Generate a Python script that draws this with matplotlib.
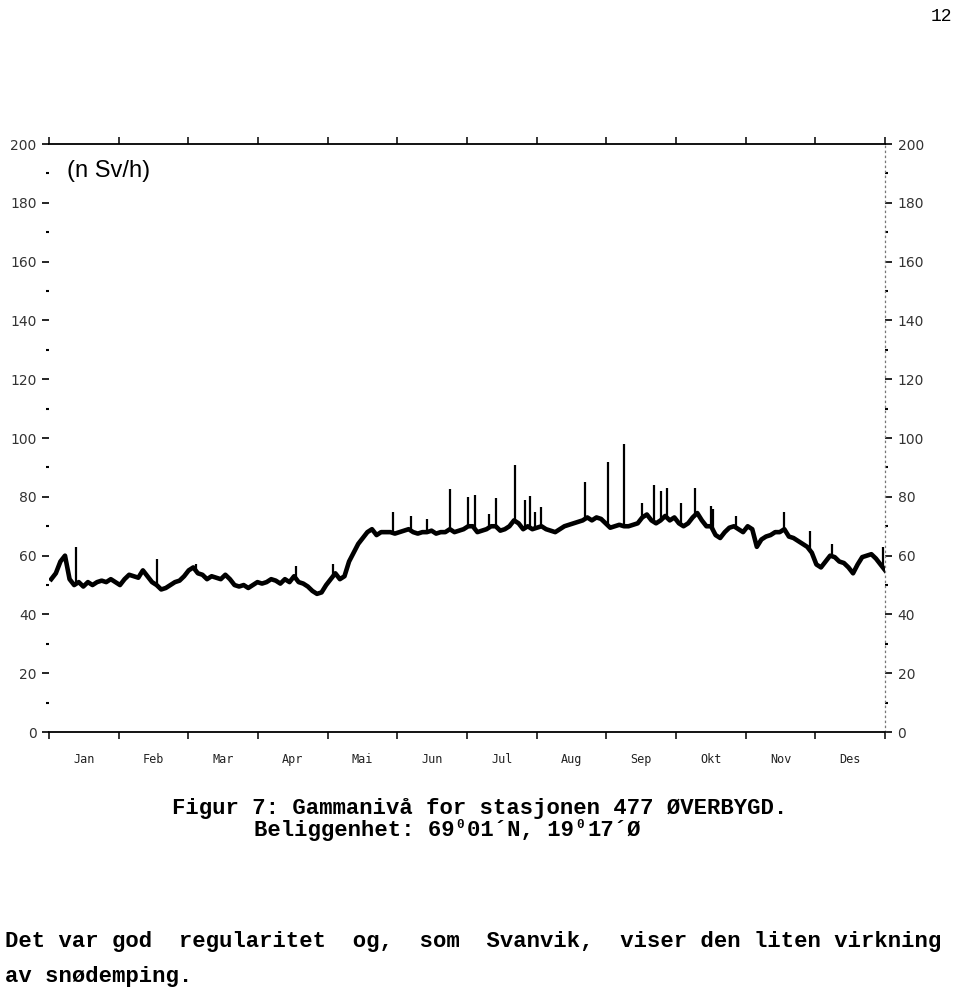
import numpy as np
import matplotlib.pyplot as plt

# Gamma level, station 477 Øverbygd, one reading every second day (nSv/h)
months = ['Jan', 'Feb', 'Mar', 'Apr', 'Mai', 'Jun', 'Jul', 'Aug', 'Sep', 'Okt', 'Nov', 'Des']
day = np.arange(1, 366, 2)
level = [
    52, 54, 58, 60, 52, 50, 51, 49.5, 51, 50, 51, 51.5, 51, 52, 51, 50,          # Jan
    52, 53.5, 53, 52.5, 55, 53, 51, 50, 48.5, 49, 50, 51, 51.5, 53,              # Feb
    55, 56, 54, 53.5, 52, 53, 52.5, 52, 53.5, 52, 50, 49.5, 50, 49, 50,          # Mar
    51, 50.5, 51, 52, 51.5, 50.5, 52, 51, 53, 51, 50.5, 49.5, 48, 47, 47.5,      # Apr
    50, 52, 54, 52, 53, 58, 61, 64, 66, 68, 69, 67, 68, 68, 68, 67.5,            # Mai
    68, 68.5, 69, 68, 67.5, 68, 68, 68.5, 67.5, 68, 68, 69, 68, 68.5, 69,        # Jun
    70, 70, 68, 68.5, 69, 70, 70, 68.5, 69, 70, 72, 71, 69, 70, 69,              # Jul
    69.5, 70, 69, 68.5, 68, 69, 70, 70.5, 71, 71.5, 72, 73, 72, 73, 72.5, 71,    # Aug
    69.5, 70, 70.5, 70, 70, 70.5, 71, 73, 74, 72, 71, 72, 73.5, 72, 73,          # Sep
    71, 70, 71, 73, 74.5, 72, 70, 70, 67, 66, 68, 69.5, 70, 69, 68, 70,          # Okt
    69, 63, 65.5, 66.5, 67, 68, 68, 69, 66.5, 66, 65, 64, 63, 61, 57,            # Nov
    56, 58, 60, 59.5, 58, 57.5, 56, 54, 57, 59.5, 60, 60.5, 59, 57, 55,          # Des
]

# short peaks (day of year, top value)
spike_day = [12, 47, 64, 108, 124, 150, 158, 165, 175, 183, 186, 192, 195, 203.5,
             208, 210, 212, 215, 234, 244, 251, 259, 264, 267, 270, 276, 282, 289,
             290, 300, 321, 332, 342, 364]
spike_top = [63, 59, 57, 56.5, 57, 75, 73.5, 72.4, 82.6, 80, 80.6, 74, 79.6, 91,
             79, 80.4, 75, 76.5, 85, 92, 98, 78, 84, 82, 83, 78, 83, 77,
             76, 73.5, 75, 68.4, 64, 63]

fig = plt.figure(figsize=(9.6, 9.93), dpi=100)
ax = fig.add_axes([0.051, 0.2628, 0.871, 0.5921])

ax.plot(day, level, color='black', lw=3.3)
base = np.interp(spike_day, day, level)
ax.vlines(spike_day, base, spike_top, color='black', lw=1.6)

ax.set_xlim(0, 365)
ax.set_ylim(0, 200)

# axes frame like the old plotter output
for s in ['top', 'bottom']:
    ax.spines[s].set_linewidth(1.3)
ax.spines['left'].set_visible(False)
ax.spines['right'].set_linestyle((0, (1, 3)))
ax.spines['right'].set_color('#777777')
ax.spines['right'].set_linewidth(0.9)

ax.set_yticks(range(0, 201, 20))
ax.set_yticks(range(10, 200, 20), minor=True)
ax.tick_params(axis='y', which='major', left=True, right=True, labelleft=True,
               labelright=True, direction='out', length=5, width=1.2,
               labelsize=10, labelcolor='#333333', pad=4)
ax.tick_params(axis='y', which='minor', left=True, right=True, direction='out',
               length=2, width=1.5)

step = 365 / 12
ax.set_xticks([i * step for i in range(13)])
ax.set_xticklabels([])
ax.set_xticks([(i + 0.5) * step for i in range(12)], minor=True)
ax.set_xticklabels(months, minor=True, family='DejaVu Sans Mono', fontsize=8.5,
                   color='#222222')
ax.tick_params(axis='x', which='major', top=True, direction='out', length=5, width=1.1)
ax.tick_params(axis='x', which='minor', length=0, pad=15)

ax.text(0.022, 0.955, '(n Sv/h)', transform=ax.transAxes, va='center',
        family='Liberation Sans', fontsize=17)

# page text
mono = dict(family='Liberation Mono', weight='bold', fontsize=16)
W, H = 960, 993
adv = 0.6 * 16 * 100 / 72


def put(x, y, s, **kw):
    fig.text(x / W, 1 - y / H, s, va='baseline', **kw)


put(952, 21, '12', ha='right', family='Liberation Mono', fontsize=13)
put(172, 814, 'Figur 7: Gammanivå for stasjonen 477 ØVERBYGD.', **mono)

# second caption line in pieces, with the raised degree zeros between them
x2 = 254
for cell, piece in [(0, 'Beliggenhet: 69'), (16, '01´N, 19'), (25, '17´Ø')]:
    put(x2 + cell * adv, 836, piece, **mono)
for cell in [15, 24]:
    put(x2 + cell * adv + 2, 828, '0', family='Liberation Mono', weight='bold', fontsize=9)

put(5, 947, 'Det var god  regularitet  og,  som  Svanvik,  viser den liten virkning', **mono)
put(5, 982, 'av snødemping.', **mono)

fig.savefig('out.png', dpi=100)
